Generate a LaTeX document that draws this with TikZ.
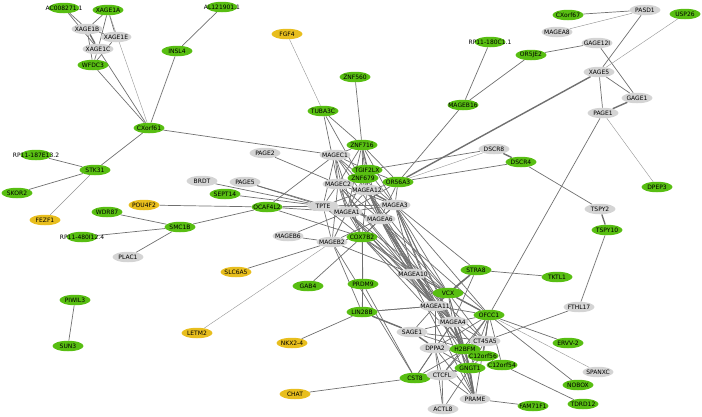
\documentclass[tikz,border=0pt]{standalone}
\usepackage{fontspec}
\newfontfamily\labfont{DejaVu Sans}
\usetikzlibrary{shapes.geometric}
\definecolor{cg}{RGB}{88,190,18}
\definecolor{cy}{RGB}{232,190,30}
\definecolor{cx}{RGB}{212,212,212}
\definecolor{ce}{RGB}{112,112,112}
\pgfdeclarelayer{bg}
\pgfsetlayers{bg,main}
\tikzset{
  base/.style={ellipse, inner sep=0pt, minimum width=31pt, minimum height=10.5pt, draw=none},
  lab/.style={font=\labfont\fontsize{6}{6.5}\selectfont, text=black, inner sep=0pt},
  gn/.style={base, fill=cg, label={[lab]center:#1}},
  yn/.style={base, fill=cy, label={[lab]center:#1}},
  xn/.style={base, fill=cx, label={[lab]center:#1}},
  e/.style={draw=ce, line width=0.7pt},
  et/.style={draw=ce!75, line width=0.4pt},
  ek/.style={draw=ce, line width=1.4pt},
}
\begin{document}
\begin{tikzpicture}[x=1pt,y=-1pt]
\useasboundingbox (0,0) rectangle (702,416);
% nodes
\node[gn=AC008271.1] (AC) at (64,8) {};
\node[gn=XAGE1A] (XAGE1A) at (108,10) {};
\node[xn=XAGE1B] (XAGE1B) at (87,29) {};
\node[xn=XAGE1E] (XAGE1E) at (116,37) {};
\node[xn=XAGE1C] (XAGE1C) at (98,49) {};
\node[gn=WFDC3] (WFDC3) at (93,65) {};
\node[gn=AL121901.1] (AL) at (222,7) {};
\node[gn=INSL4] (INSL4) at (177,51) {};
\node[gn=CXorf61] (CXorf61) at (149,128) {};
\node[yn=FGF4] (FGF4) at (287,34) {};
\node[gn=ZNF560] (ZNF560) at (355,77) {};
\node[gn=TUBA3C] (TUBA3C) at (323,111) {};
\node[gn=RP11-180C1.1] (RPa) at (490,42) {};
\node[gn=MAGEB16] (MAGEB16) at (463,105) {};
\node[gn=OR5JE2] (OR5JE2) at (531,55) {};
\node[gn=CXorf67] (CXorf67) at (568,15) {};
\node[xn=PASD1] (PASD1) at (645,10) {};
\node[gn=USP26] (USP26) at (685,14) {};
\node[xn=MAGEA8] (MAGEA8) at (557,32) {};
\node[xn=GAGE12I] (GAGE12I) at (597,43) {};
\node[xn=XAGE5] (XAGE5) at (599,72) {};
\node[xn=GAGE1] (GAGE1) at (637,98) {};
\node[xn=PAGE1] (PAGE1) at (603,113) {};
\node[xn=DSCR8] (DSCR8) at (494,149) {};
\node[gn=DSCR4] (DSCR4) at (521,162) {};
\node[gn=DPEP3] (DPEP3) at (657,187) {};
\node[xn=TSPY2] (TSPY2) at (600,209) {};
\node[gn=TSPY10] (TSPY10) at (607,230) {};
\node[xn=FTHL17] (FTHL17) at (579,307) {};
\node[gn=STRA8] (STRA8) at (476,270) {};
\node[gn=TKTL1] (TKTL1) at (557,277) {};
\node[gn=ERVV-2] (ERVV) at (568,343) {};
\node[xn=SPANXC] (SPANXC) at (598,372) {};
\node[gn=NOBOX] (NOBOX) at (578,385) {};
\node[gn=TDRD12] (TDRD12) at (583,404) {};
\node[gn=FAM71F1] (FAM71F1) at (533,406) {};
\node[yn=NKX2-4] (NKX) at (292,343) {};
\node[yn=CHAT] (CHAT) at (295,394) {};
\node[gn=GAB4] (GAB4) at (308,286) {};
\node[xn=PAGE2] (PAGE2) at (265,153) {};
\node[xn=PAGE5] (PAGE5) at (245,182) {};
\node[xn=BRDT] (BRDT) at (202,181) {};
\node[gn=SEPT14] (SEPT14) at (225,194) {};
\node[gn=OCAF4L2] (OCAF4L2) at (267,207) {};
\node[xn=MAGEB6] (MAGEB6) at (288,236) {};
\node[yn=POU4F2] (POU4F2) at (144,205) {};
\node[gn=WDR87] (WDR87) at (107,212) {};
\node[gn=SMC1B] (SMC1B) at (180,227) {};
\node[gn=RP11-480I12.4] (RPc) at (82,237) {};
\node[xn=PLAC1] (PLAC1) at (128,257) {};
\node[yn=SLC6A5] (SLC6A5) at (236,272) {};
\node[yn=LETM2] (LETM2) at (197,333) {};
\node[gn=PIWIL3] (PIWIL3) at (75,300) {};
\node[gn=SUN3] (SUN3) at (68,346) {};
\node[gn=STK31] (STK31) at (95,170) {};
\node[gn=RP11-187E13.2] (RPb) at (36,155) {};
\node[gn=SKOR2] (SKOR2) at (17,193) {};
\node[yn=FEZF1] (FEZF1) at (45,220) {};
% central cluster
\node[xn=MAGEC1] (MAGEC1) at (335,155) {};
\node[gn=ZNF716] (ZNF716) at (362,145) {};
\node[xn=TPTE] (TPTE) at (323,206) {};
\node[xn=MAGEC2] (MAGEC2) at (338,184) {};
\node[xn=MAGEA12] (MAGEA12) at (367,190) {};
\node[gn=TGIF2LX] (TGIF2LX) at (367,170) {};
\node[gn=ZNF679] (ZNF679) at (363,178) {};
\node[gn=OR56A3] (OR56A3) at (398,182) {};
\node[xn=MAGEA3] (MAGEA3) at (395,205) {};
\node[xn=MAGEA1] (MAGEA1) at (347,212) {};
\node[xn=MAGEA6] (MAGEA6) at (380,219) {};
\node[xn=MAGEB2] (MAGEB2) at (332,242) {};
\node[gn=COX7B2] (COX7B2) at (362,237) {};
\node[gn=PRDM9] (PRDM9) at (363,284) {};
\node[gn=LIN28B] (LIN28B) at (362,312) {};
\node[xn=MAGEA10] (MAGEA10) at (413,274) {};
\node[gn=VCX] (VCX) at (448,293) {};
\node[xn=MAGEA11] (MAGEA11) at (435,306) {};
\node[gn=OFCC1] (OFCC1) at (489,315) {};
\node[xn=MAGEA4] (MAGEA4) at (453,322) {};
\node[xn=SAGE1] (SAGE1) at (412,332) {};
\node[xn=DPPA2] (DPPA2) at (435,348) {};
\node[xn=CT45A5] (CT45A5) at (485,341) {};
\node[gn=H2BFM] (H2BFM) at (465,349) {};
\node[gn=C12orf56] (C12orf56) at (483,356) {};
\node[gn=C12orf54] (C12orf54) at (502,365) {};
\node[gn=GNGT1] (GNGT1) at (470,368) {};
\node[gn=CST8] (CST8) at (415,378) {};
\node[xn=CTCFL] (CTCFL) at (442,375) {};
\node[xn=PRAME] (PRAME) at (475,399) {};
\node[xn=ACTL8] (ACTL8) at (443,409) {};
% edges
\begin{pgfonlayer}{bg}
\foreach \a/\b in {AC/XAGE1B,AC/XAGE1C,XAGE1A/XAGE1B,XAGE1A/XAGE1E,XAGE1A/XAGE1C,XAGE1B/XAGE1E,XAGE1B/WFDC3,
  XAGE1E/WFDC3,XAGE1C/WFDC3,XAGE1C/CXorf61,WFDC3/CXorf61,INSL4/CXorf61,AL/INSL4,CXorf61/STK31,
  STK31/RPb,STK31/SKOR2,SMC1B/WDR87,SMC1B/RPc,SMC1B/PLAC1,SMC1B/OCAF4L2,PIWIL3/SUN3,
  CXorf67/PASD1,PASD1/XAGE5,GAGE12I/OR5JE2,GAGE12I/GAGE1,XAGE5/GAGE1,XAGE5/PAGE1,RPa/MAGEB16,OR5JE2/MAGEB16,
  DSCR4/TSPY2,TSPY10/FTHL17,FTHL17/CT45A5,STRA8/TKTL1,PAGE1/OFCC1,MAGEB16/OR56A3,
  TUBA3C/ZNF716,TUBA3C/MAGEC2,TUBA3C/MAGEA12,ZNF560/ZNF716,OCAF4L2/MAGEC1,OCAF4L2/TPTE,OCAF4L2/MAGEA1,OCAF4L2/MAGEA3,OCAF4L2/COX7B2,
  BRDT/TPTE,PAGE5/TPTE,PAGE5/MAGEA1,SEPT14/TPTE,PAGE2/MAGEC2,MAGEB6/MAGEA1,MAGEB6/MAGEB2,POU4F2/OCAF4L2,
  DSCR8/TGIF2LX,DSCR4/OR56A3,CXorf61/MAGEC1,
  MAGEC1/ZNF716,MAGEC1/MAGEC2,MAGEC1/MAGEA12,MAGEC1/TPTE,MAGEC1/MAGEA1,MAGEC1/MAGEA3,MAGEC1/MAGEA6,MAGEC1/TGIF2LX,MAGEC1/COX7B2,
  ZNF716/TGIF2LX,ZNF716/ZNF679,ZNF716/MAGEC2,ZNF716/MAGEA12,ZNF716/MAGEA3,ZNF716/OR56A3,ZNF716/MAGEA1,ZNF716/MAGEA6,
  TGIF2LX/MAGEA3,TGIF2LX/MAGEA12,TGIF2LX/OR56A3,ZNF679/MAGEC2,ZNF679/MAGEA12,ZNF679/MAGEA1,ZNF679/MAGEA6,
  MAGEC2/MAGEA12,MAGEC2/TPTE,MAGEC2/MAGEA1,MAGEC2/MAGEA3,MAGEC2/MAGEA6,MAGEC2/COX7B2,MAGEC2/MAGEB2,
  MAGEA12/MAGEA1,MAGEA12/MAGEA6,MAGEA12/TPTE,MAGEA12/COX7B2,MAGEA12/OR56A3,
  OR56A3/MAGEA3,OR56A3/MAGEA6,OR56A3/MAGEA1,TPTE/MAGEA1,TPTE/MAGEA6,TPTE/MAGEA3,TPTE/COX7B2,TPTE/MAGEB2,
  MAGEA1/MAGEA3,MAGEA1/MAGEA6,MAGEA1/COX7B2,MAGEA1/MAGEB2,MAGEA3/MAGEA6,MAGEA3/COX7B2,MAGEA6/COX7B2,MAGEA6/MAGEB2,COX7B2/MAGEB2,
  MAGEA3/MAGEA10,MAGEA6/MAGEA10,MAGEA12/MAGEA10,MAGEA1/MAGEA10,MAGEC2/MAGEA10,COX7B2/MAGEA10,MAGEB2/MAGEA10,
  MAGEA3/VCX,MAGEA6/VCX,MAGEA12/VCX,MAGEA1/VCX,MAGEA3/OFCC1,MAGEA6/OFCC1,
  MAGEA3/MAGEA11,MAGEA6/MAGEA11,MAGEA1/MAGEA11,MAGEA12/MAGEA11,MAGEC2/MAGEA11,
  MAGEA3/MAGEA4,MAGEA6/MAGEA4,MAGEA1/MAGEA4,MAGEA12/MAGEA4,MAGEA3/H2BFM,MAGEA6/H2BFM,MAGEA6/PRAME,MAGEA3/PRAME,MAGEA12/GNGT1,
  MAGEB2/CST8,PRDM9/CST8,MAGEB2/LIN28B,COX7B2/PRDM9,COX7B2/LIN28B,PRDM9/LIN28B,GAB4/COX7B2,MAGEB2/SLC6A5,
  COX7B2/MAGEA4,COX7B2/MAGEA11,COX7B2/H2BFM,COX7B2/VCX,MAGEA3/STRA8,
  MAGEA10/VCX,MAGEA10/MAGEA11,MAGEA10/MAGEA4,MAGEA10/H2BFM,MAGEA10/OFCC1,MAGEA10/CT45A5,
  VCX/MAGEA11,VCX/MAGEA4,VCX/H2BFM,VCX/GNGT1,VCX/CT45A5,STRA8/MAGEA11,STRA8/MAGEA4,
  MAGEA11/MAGEA4,MAGEA11/OFCC1,MAGEA11/DPPA2,MAGEA11/H2BFM,MAGEA11/LIN28B,MAGEA11/SAGE1,
  MAGEA4/OFCC1,MAGEA4/H2BFM,MAGEA4/CT45A5,MAGEA4/DPPA2,MAGEA4/GNGT1,MAGEA4/C12orf56,
  SAGE1/LIN28B,SAGE1/CT45A5,SAGE1/H2BFM,SAGE1/MAGEA4,
  DPPA2/H2BFM,DPPA2/CTCFL,DPPA2/ACTL8,DPPA2/CST8,DPPA2/OFCC1,DPPA2/GNGT1,DPPA2/PRAME,
  H2BFM/CT45A5,H2BFM/C12orf56,H2BFM/GNGT1,H2BFM/OFCC1,H2BFM/CTCFL,
  CT45A5/OFCC1,CT45A5/C12orf56,CT45A5/GNGT1,C12orf56/C12orf54,C12orf56/OFCC1,C12orf56/GNGT1,C12orf54/OFCC1,
  GNGT1/PRAME,GNGT1/CTCFL,GNGT1/OFCC1,GNGT1/ACTL8,GNGT1/CST8,CTCFL/CST8,CTCFL/ACTL8,CTCFL/PRAME,CTCFL/OFCC1,
  CST8/H2BFM,CST8/MAGEA4,CST8/GNGT1,PRAME/OFCC1,PRAME/FAM71F1,
  OFCC1/ERVV,OFCC1/NOBOX,C12orf54/TDRD12,LIN28B/NKX,CST8/CHAT,LIN28B/MAGEA11}
  \draw[e] (\a) -- (\b);
\foreach \a/\b in {XAGE1A/CXorf61,STK31/FEZF1,MAGEA8/PASD1,USP26/XAGE5,PAGE1/DPEP3,FGF4/TUBA3C,
  LETM2/MAGEB2,OFCC1/SPANXC,DSCR8/OR56A3}
  \draw[et] (\a) -- (\b);
\foreach \a/\b in {XAGE1B/XAGE1C,GAGE1/PAGE1,DSCR8/DSCR4,TSPY2/TSPY10,XAGE5/OR56A3,VCX/STRA8,VCX/OFCC1,
  LIN28B/SAGE1,SAGE1/DPPA2,MAGEA4/PRAME,H2BFM/PRAME,MAGEA3/MAGEA12}
  \draw[ek] (\a) -- (\b);
\end{pgfonlayer}
\end{tikzpicture}
\end{document}
